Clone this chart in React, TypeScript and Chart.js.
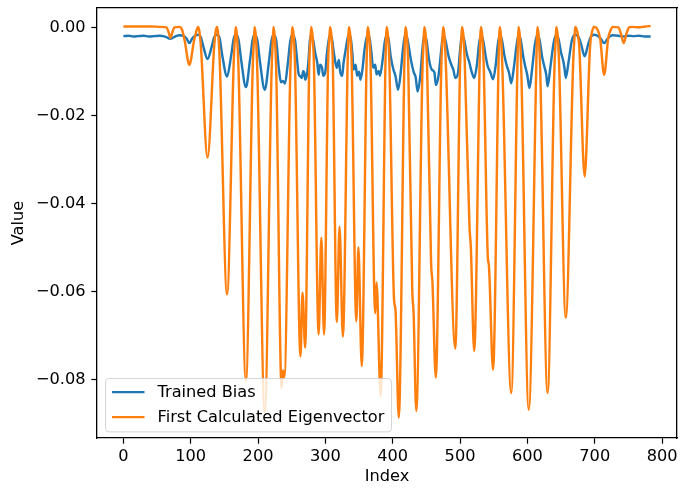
import React, { useEffect, useRef } from 'react';
import { Chart, registerables } from 'chart.js';

Chart.register(...registerables);

const xTickValues = [0, 100, 200, 300, 400, 500, 600, 700, 800];
const yTickValues = [0, -0.02, -0.04, -0.06, -0.08];
const seriesNames = ['Trained Bias', 'First Calculated Eigenvector'];
const seriesColors = ['#1f77b4', '#ff7f0e'];
const X_MIN = -39.15;
const X_MAX = 822.15;
const Y_MIN = -0.09334;
const Y_MAX = 0.00439;

const trainedBias: [number, number][] = [
  [0, -0.0020], [8, -0.0019], [15, -0.0021], [22, -0.0020], [30, -0.0019], [38, -0.0021], [46, -0.0020], [54, -0.0019], [62, -0.0021],
  [70, -0.0026], [78, -0.0020], [83, -0.0018],
  [90, -0.0020], [94, -0.0026], [98, -0.0036], [102, -0.0026], [106, -0.0020], [111, -0.0017],
  [115, -0.0022], [119, -0.0045], [125, -0.0072], [131, -0.0045], [135, -0.0022], [139, -0.0017],
  [143, -0.0025], [147, -0.0065], [154, -0.0112], [160, -0.0065], [164, -0.0025], [167, -0.0017],
  [171, -0.0028], [175, -0.0075], [182, -0.0136], [188, -0.0075], [192, -0.0028], [195, -0.0017],
  [199, -0.0030], [203, -0.0080], [210, -0.0142], [216, -0.0080], [220, -0.0030], [223, -0.0017],
  [227, -0.0030], [231, -0.0095], [234, -0.0125], [237, -0.0122], [240, -0.0128], [244, -0.0085], [248, -0.0030], [251, -0.0017],
  [255, -0.0030], [258, -0.0074], [260, -0.0104], [263, -0.0112], [265, -0.0115], [267, -0.0100], [269, -0.0106], [270, -0.0119], [273, -0.0104], [275, -0.0074], [277, -0.0030], [279, -0.0017],
  [282, -0.0030], [285, -0.0059], [288, -0.0081], [290, -0.0108], [292, -0.0085], [295, -0.0092], [297, -0.0110], [300, -0.0100], [302, -0.0064], [305, -0.0028], [307, -0.0017],
  [310, -0.0028], [312, -0.0052], [315, -0.0081], [317, -0.0092], [320, -0.0074], [322, -0.0101], [325, -0.0110], [327, -0.0081], [330, -0.0052], [333, -0.0025], [335, -0.0017],
  [338, -0.0028], [340, -0.0059], [342, -0.0096], [345, -0.0085], [347, -0.0110], [350, -0.0101], [352, -0.0119], [355, -0.0096], [358, -0.0052], [361, -0.0025], [363, -0.0017],
  [366, -0.0028], [368, -0.0052], [371, -0.0092], [374, -0.0085], [376, -0.0107], [379, -0.0099], [381, -0.0110], [385, -0.0074], [388, -0.0035], [391, -0.0017],
  [394, -0.0028], [397, -0.0066], [401, -0.0096], [404, -0.0110], [408, -0.0142], [412, -0.0101], [415, -0.0052], [417, -0.0028], [419, -0.0017],
  [422, -0.0028], [427, -0.0074], [431, -0.0101], [434, -0.0113], [437, -0.0146], [441, -0.0110], [444, -0.0052], [447, -0.0017],
  [450, -0.0028], [454, -0.0074], [458, -0.0096], [462, -0.0103], [464, -0.0131], [468, -0.0110], [472, -0.0052], [475, -0.0017],
  [478, -0.0028], [483, -0.0066], [487, -0.0085], [490, -0.0096], [493, -0.0115], [497, -0.0103], [500, -0.0052], [503, -0.0017],
  [506, -0.0028], [510, -0.0060], [514, -0.0081], [517, -0.0100], [521, -0.0115], [525, -0.0085], [528, -0.0040], [531, -0.0017],
  [534, -0.0028], [538, -0.0065], [541, -0.0088], [545, -0.0102], [549, -0.0118], [553, -0.0085], [556, -0.0040], [559, -0.0017],
  [562, -0.0028], [566, -0.0065], [569, -0.0085], [573, -0.0105], [576, -0.0127], [580, -0.0090], [584, -0.0040], [587, -0.0017],
  [590, -0.0028], [594, -0.0068], [597, -0.0090], [600, -0.0110], [603, -0.0138], [607, -0.0095], [611, -0.0040], [615, -0.0017],
  [618, -0.0028], [622, -0.0068], [625, -0.0088], [628, -0.0108], [630, -0.0134], [634, -0.0092], [639, -0.0035], [643, -0.0017],
  [646, -0.0025], [650, -0.0058], [653, -0.0075], [655, -0.0092], [657, -0.0115], [661, -0.0080], [666, -0.0030], [671, -0.0017],
  [676, -0.0022], [680, -0.0040], [685, -0.0066], [690, -0.0040], [694, -0.0022], [699, -0.0017],
  [705, -0.0020], [709, -0.0026], [714, -0.0036], [719, -0.0026], [723, -0.0020], [727, -0.0018],
  [735, -0.0019], [742, -0.0021], [750, -0.0019], [758, -0.0020], [766, -0.0019], [774, -0.0021], [783, -0.0021],
];

const firstEigenvector: [number, number][] = [
  [0, 0.0002], [20, 0.0002], [40, 0.0002], [55, 0.0001],
  [64, 0.0000], [67, -0.0010], [70, -0.0024], [73, -0.0010], [76, 0.0000], [83, 0.0001],
  [87, -0.0005], [91, -0.0030], [98, -0.0085], [105, -0.0030], [109, -0.0005], [111, 0.0001],
  [113, -0.0010], [115, -0.0040], [125, -0.0296], [135, -0.0040], [137, -0.0010], [139, 0.0001],
  [141, -0.0018], [143, -0.0073], [154, -0.0607], [164, -0.0073], [166, -0.0018], [167, 0.0001],
  [169, -0.0024], [171, -0.0096], [182, -0.0804], [192, -0.0096], [194, -0.0024], [195, 0.0001],
  [197, -0.0026], [199, -0.0105], [210, -0.0875], [220, -0.0105], [222, -0.0026], [223, 0.0001],
  [225, -0.0025], [227, -0.0098], [235, -0.0820], [237, -0.0780], [239, -0.0795], [248, -0.0095], [250, -0.0024], [251, 0.0001],
  [253, -0.0022], [255, -0.0090], [263, -0.0748], [266, -0.0603], [270, -0.0728], [276, -0.0087], [278, -0.0022], [279, 0.0001],
  [281, -0.0021], [283, -0.0084], [290, -0.0698], [294, -0.0478], [298, -0.0698], [304, -0.0084], [306, -0.0021], [307, 0.0001],
  [309, -0.0020], [311, -0.0080], [317, -0.0670], [321, -0.0453], [326, -0.0703], [333, -0.0084], [334, -0.0021], [335, 0.0001],
  [337, -0.0020], [339, -0.0080], [346, -0.0668], [349, -0.0500], [354, -0.0770], [361, -0.0092], [362, -0.0023], [363, 0.0001],
  [365, -0.0020], [367, -0.0078], [374, -0.0650], [376, -0.0580], [382, -0.0838], [389, -0.0100], [390, -0.0025], [391, 0.0001],
  [393, -0.0020], [395, -0.0080], [402, -0.0620], [404, -0.0640], [409, -0.0887], [417, -0.0106], [418, -0.0027], [419, 0.0001],
  [421, -0.0020], [423, -0.0085], [429, -0.0596], [431, -0.0650], [435, -0.0872], [444, -0.0105], [446, -0.0026], [447, 0.0001],
  [449, -0.0020], [451, -0.0085], [457, -0.0535], [459, -0.0580], [464, -0.0796], [472, -0.0096], [474, -0.0024], [475, 0.0001],
  [477, -0.0022], [479, -0.0088], [493, -0.0730], [500, -0.0088], [502, -0.0022], [503, 0.0001],
  [505, -0.0020], [507, -0.0080], [514, -0.0453], [516, -0.0500], [521, -0.0736], [529, -0.0088], [530, -0.0022], [531, 0.0001],
  [533, -0.0020], [535, -0.0080], [541, -0.0515], [543, -0.0545], [549, -0.0778], [557, -0.0093], [558, -0.0023], [559, 0.0001],
  [561, -0.0025], [563, -0.0100], [576, -0.0831], [585, -0.0100], [586, -0.0025], [587, 0.0001],
  [589, -0.0026], [591, -0.0104], [602, -0.0869], [613, -0.0104], [614, -0.0026], [615, 0.0001],
  [617, -0.0025], [619, -0.0100], [630, -0.0831], [640, -0.0100], [642, -0.0025], [643, 0.0001],
  [645, -0.0020], [647, -0.0079], [657, -0.0660], [668, -0.0079], [670, -0.0020], [671, 0.0001],
  [674, -0.0010], [677, -0.0045], [685, -0.0339], [693, -0.0045], [696, -0.0010], [699, 0.0001],
  [704, -0.0005], [708, -0.0025], [714, -0.0108], [720, -0.0025], [724, -0.0005], [727, 0.0001],
  [735, 0.0000], [739, -0.0015], [743, -0.0036], [747, -0.0015], [751, 0.0000], [755, 0.0001],
  [765, 0.0000], [775, 0.0002], [783, 0.0003],
];

const FONT = 'DejaVu Sans';
const FS = 16.2;
const LW = 2.43;

const legendPlugin = {
  id: 'mplLegend',
  afterDraw(chart: any) {
    const { ctx } = chart;
    const { left, bottom } = chart.chartArea;
    const L = Math.round(left);
    const B = Math.round(bottom);
    ctx.save();
    const x0 = L + 8.5;
    const y0 = B - 59.5;
    const w = 286;
    const h = 53.4;
    const r = 3.5;
    ctx.beginPath();
    ctx.moveTo(x0 + r, y0);
    ctx.lineTo(x0 + w - r, y0);
    ctx.quadraticCurveTo(x0 + w, y0, x0 + w, y0 + r);
    ctx.lineTo(x0 + w, y0 + h - r);
    ctx.quadraticCurveTo(x0 + w, y0 + h, x0 + w - r, y0 + h);
    ctx.lineTo(x0 + r, y0 + h);
    ctx.quadraticCurveTo(x0, y0 + h, x0, y0 + h - r);
    ctx.lineTo(x0, y0 + r);
    ctx.quadraticCurveTo(x0, y0, x0 + r, y0);
    ctx.closePath();
    ctx.fillStyle = 'rgba(255,255,255,0.8)';
    ctx.fill();
    ctx.strokeStyle = 'rgba(204,204,204,0.8)';
    ctx.lineWidth = 1;
    ctx.stroke();
    ctx.font = `${FS}px "${FONT}"`;
    ctx.textBaseline = 'middle';
    ctx.textAlign = 'left';
    for (let i = 0; i < seriesNames.length; i++) {
      const ly = y0 + 13.6 + i * 25;
      ctx.strokeStyle = seriesColors[i];
      ctx.lineWidth = LW;
      ctx.beginPath();
      ctx.moveTo(x0 + 6.5, ly);
      ctx.lineTo(x0 + 39, ly);
      ctx.stroke();
      ctx.fillStyle = '#000';
      ctx.fillText(seriesNames[i], x0 + 52, ly + 0.5);
    }
    ctx.restore();
  },
};

export default function App() {
  const ref = useRef<HTMLCanvasElement | null>(null);
  useEffect(() => {
    document.body.style.margin = '0';
    if (!ref.current) return;
    const chart = new Chart(ref.current, {
      type: 'line',
      data: {
        datasets: [
          {
            label: seriesNames[0],
            data: trainedBias.map(([x, y]) => ({ x, y })),
            borderColor: seriesColors[0],
            backgroundColor: seriesColors[0],
            borderWidth: LW,
            pointRadius: 0,
            cubicInterpolationMode: 'monotone',
            xAxisID: 'x',
            yAxisID: 'y',
            order: 1,
          },
          {
            label: seriesNames[1],
            data: firstEigenvector.map(([x, y]) => ({ x, y })),
            borderColor: seriesColors[1],
            backgroundColor: seriesColors[1],
            borderWidth: LW,
            pointRadius: 0,
            cubicInterpolationMode: 'monotone',
            xAxisID: 'x',
            yAxisID: 'y',
            order: 0,
          },
        ],
      },
      options: {
        animation: false,
        responsive: false,
        devicePixelRatio: 1,
        layout: { padding: { top: 8, right: 14, left: 0, bottom: 0 } },
        plugins: { legend: { display: false }, tooltip: { enabled: false } },
        scales: {
          x: {
            type: 'linear',
            position: 'bottom',
            min: X_MIN,
            max: X_MAX,
            afterFit: (s: any) => {
              s.height = 51;
              s.paddingLeft = 0;
              s.paddingRight = 0;
            },
            afterBuildTicks: (s: any) => { s.ticks = xTickValues.map((v) => ({ value: v })); },
            grid: { display: true, drawOnChartArea: false, drawTicks: true, tickLength: 5.7, tickColor: '#000', tickWidth: 1.2 },
            border: { display: true, color: '#000', width: 1.3 },
            ticks: {
              color: '#000',
              font: { family: FONT, size: FS },
              padding: 3,
              maxRotation: 0,
              autoSkip: false,
              callback: (v: any) => String(v),
            },
            title: { display: true, text: 'Index', color: '#000', font: { family: FONT, size: FS }, padding: { top: 0, bottom: 2 } },
          },
          xTop: {
            type: 'linear',
            position: 'top',
            display: true,
            min: X_MIN,
            max: X_MAX,
            afterFit: (s: any) => {
              s.height = 0;
              s.paddingLeft = 0;
              s.paddingRight = 0;
            },
            grid: { display: false, drawOnChartArea: false, drawTicks: false },
            border: { display: true, color: '#000', width: 1.3 },
            ticks: { display: false },
          },
          y: {
            type: 'linear',
            position: 'left',
            min: Y_MIN,
            max: Y_MAX,
            afterFit: (s: any) => {
              s.width = 97;
              s.paddingTop = 0;
              s.paddingBottom = 0;
            },
            afterBuildTicks: (s: any) => { s.ticks = yTickValues.map((v) => ({ value: v })); },
            grid: { display: true, drawOnChartArea: false, drawTicks: true, tickLength: 5.7, tickColor: '#000', tickWidth: 1.2 },
            border: { display: true, color: '#000', width: 1.3 },
            ticks: {
              color: '#000',
              font: { family: FONT, size: FS },
              padding: 5.7,
              autoSkip: false,
              callback: (v: any) => (Math.abs(v) < 1e-9 ? '0.00' : '\u2212' + Math.abs(v).toFixed(2)),
            },
            title: { display: true, text: 'Value', color: '#000', font: { family: FONT, size: FS }, padding: { top: 9, bottom: 0 } },
          },
          yRight: {
            type: 'linear',
            position: 'right',
            display: true,
            min: Y_MIN,
            max: Y_MAX,
            afterFit: (s: any) => {
              s.width = 0;
              s.paddingTop = 0;
              s.paddingBottom = 0;
            },
            grid: { display: false, drawOnChartArea: false, drawTicks: false },
            border: { display: true, color: '#000', width: 1.3 },
            ticks: { display: false },
          },
        },
      },
      plugins: [legendPlugin],
    } as any);
    return () => chart.destroy();
  }, []);
  return (
    <div style={{ position: 'absolute', left: 0, top: 0, width: 691, height: 489, background: '#fff' }}>
      <canvas ref={ref} width={691} height={489} style={{ width: 691, height: 489, display: 'block' }} />
    </div>
  );
}
